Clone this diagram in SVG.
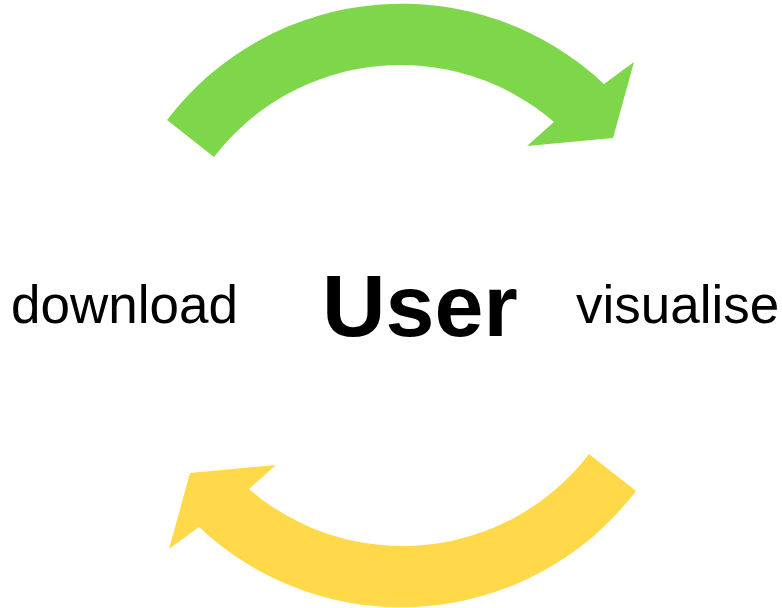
<svg xmlns="http://www.w3.org/2000/svg" width="782" height="608" viewBox="0 0 782 608">
  <style>
    .label { font-family: "Liberation Sans", Arial, sans-serif; fill: #000000; }
    .verb { font-size: 53px; }
    .title { font-size: 88px; font-weight: bold; }
  </style>
  <defs>
    <!-- curved block arrow: circular band (centre 400,301) with arrowhead on the right -->
    <path id="curved-arrow" d="M 167,120 A 295 295 0 0 1 604,84 L 634,62 L 613,138 L 527,146 L 554,122 A 235 235 0 0 0 214,157 Z"/>
  </defs>
  <rect width="782" height="608" fill="#ffffff"/>

  <g id="connectors">
    <use id="arrow-visualise" href="#curved-arrow" fill="#7ED74A"/>
    <use id="arrow-download" href="#curved-arrow" fill="#FFD94A" transform="rotate(180 401.5 305.5)"/>
  </g>

  <g id="node-download">
    <text class="label verb" x="11" y="323">download</text>
  </g>
  <g id="node-user">
    <text class="label title" x="322" y="336">User</text>
  </g>
  <g id="node-visualise">
    <text class="label verb" x="576" y="323">visualise</text>
  </g>
</svg>
